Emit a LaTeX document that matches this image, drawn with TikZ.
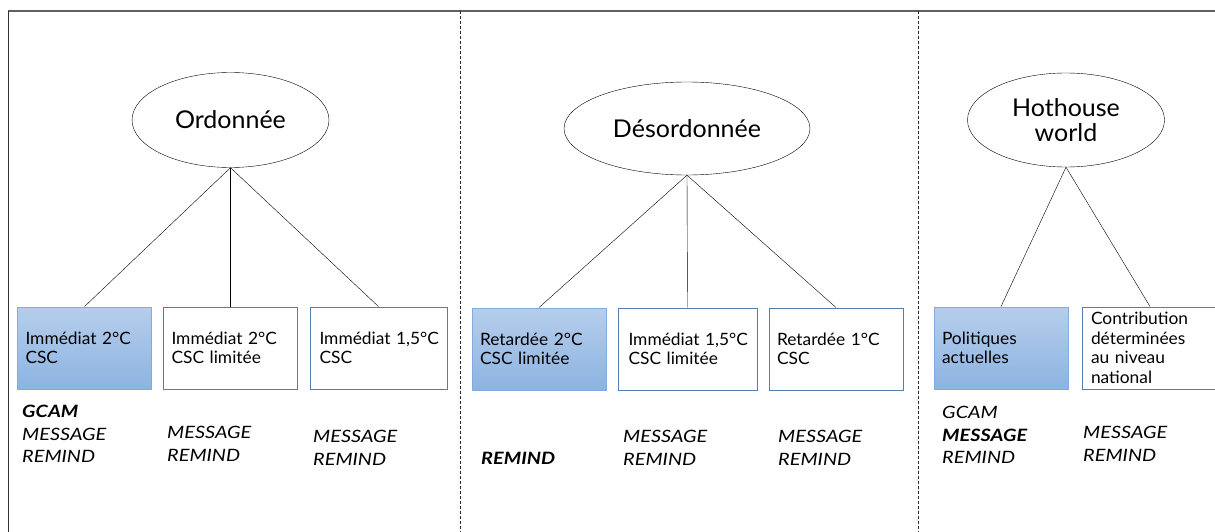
\documentclass[tikz,border=0pt]{standalone}
\usepackage{fontspec}
\setmainfont{Lato}[FakeStretch=1.02]
\newfontfamily\modelfont{Lato}[FakeStretch=1.17]
\usetikzlibrary{shapes.geometric}

\definecolor{boxtop}{RGB}{182,206,235}
\definecolor{boxbot}{RGB}{140,179,226}
\definecolor{fillrim}{RGB}{130,172,224}
\definecolor{openrim}{RGB}{84,124,176}

\begin{document}
\begin{tikzpicture}[x=1pt,y=-1pt,
			scenario node/.style={ellipse,draw,thin,inner sep=0pt,align=center,font=\fontsize{24.5}{25}\selectfont},
			path node/.style={rectangle,draw=openrim,line width=0.9pt,minimum height=82pt,inner xsep=8pt,text width=118pt,align=left,font=\fontsize{17}{19.5}\selectfont},
			lead node/.style={path node,draw=fillrim,top color=boxtop,bottom color=boxbot},
			model text/.style={anchor=north west,inner sep=0pt,align=left,font=\modelfont\fontsize{17}{22.5}\selectfont\itshape}
			]
			
			\useasboundingbox (0,0) rectangle (1215,532);
			
			% frame and column separators
			\draw[gray!75!black,line width=1.6pt] (1215,11) -- (8,11);
			\draw[black!80,line width=0.8pt] (8,11) -- (8,532);
			\foreach \x in {460,918}
				\draw[black!85,line width=0.8pt,dash pattern=on 3pt off 2pt] (\x,11) -- (\x,532);
			
			% the three scenario families
			\node[scenario node,minimum width=197pt,minimum height=95pt] at (230.5,120) (ord) {Ordonnée};
			\node[scenario node,minimum width=246pt,minimum height=93pt] at (687,128.5) (des) {Désordonnée};
			\node[scenario node,minimum width=197pt,minimum height=94pt] at (1066,120) (hot) {Hothouse\\world};
			
			% transition paths
			\node[lead node,minimum width=133pt] at (84.5,348) (o1) {Immédiat 2°C\\CSC};
			\node[path node,minimum width=133pt] at (230.5,348) (o2) {Immédiat 2°C\\CSC limitée};
			\node[path node,minimum width=137pt] at (378.5,348) (o3) {Immédiat~1,5°C\\CSC};
			
			\node[lead node,minimum width=134pt] at (539,349) (d1) {Retardée 2°C\\CSC limitée};
			\node[path node,minimum width=139pt] at (687.5,349) (d2) {Immédiat~1,5°C\\CSC limitée};
			\node[path node,minimum width=134pt] at (836,349) (d3) {Retardée 1°C\\CSC};
			
			\node[lead node,minimum width=134pt] at (1001,348) (h1) {Politiques\\actuelles};
			\node[path node,minimum width=136pt] at (1150,348) (h2) {Contribution\\déterminées\\au niveau\\national};
			
			\foreach \b in {o1,o2,o3}
				\draw (ord.south) -- (\b.north);
			\foreach \b in {d1,d2,d3}
				\draw (des.south) -- (\b.north);
			\foreach \b in {h1,h2}
				\draw (hot.south) -- (\b.north);
			
			% models behind each path
			\node[model text] at (22,405) (mo1) {\textbf{GCAM}\\MESSAGE\\REMIND};
			\node[model text] at (167,426) (mo2) {MESSAGE\\REMIND};
			\node[model text] at (313,430) (mo3) {MESSAGE\\REMIND};
			
			\node[model text] at (481,452) (md1) {\textbf{REMIND}};
			\node[model text] at (623,430) (md2) {MESSAGE\\REMIND};
			\node[model text] at (778,430) (md3) {MESSAGE\\REMIND};
			
			\node[model text] at (942,406) (mh1) {GCAM\\\textbf{MESSAGE}\\REMIND};
			\node[model text] at (1083,426) (mh2) {MESSAGE\\REMIND};
			\end{tikzpicture}
\end{document}
